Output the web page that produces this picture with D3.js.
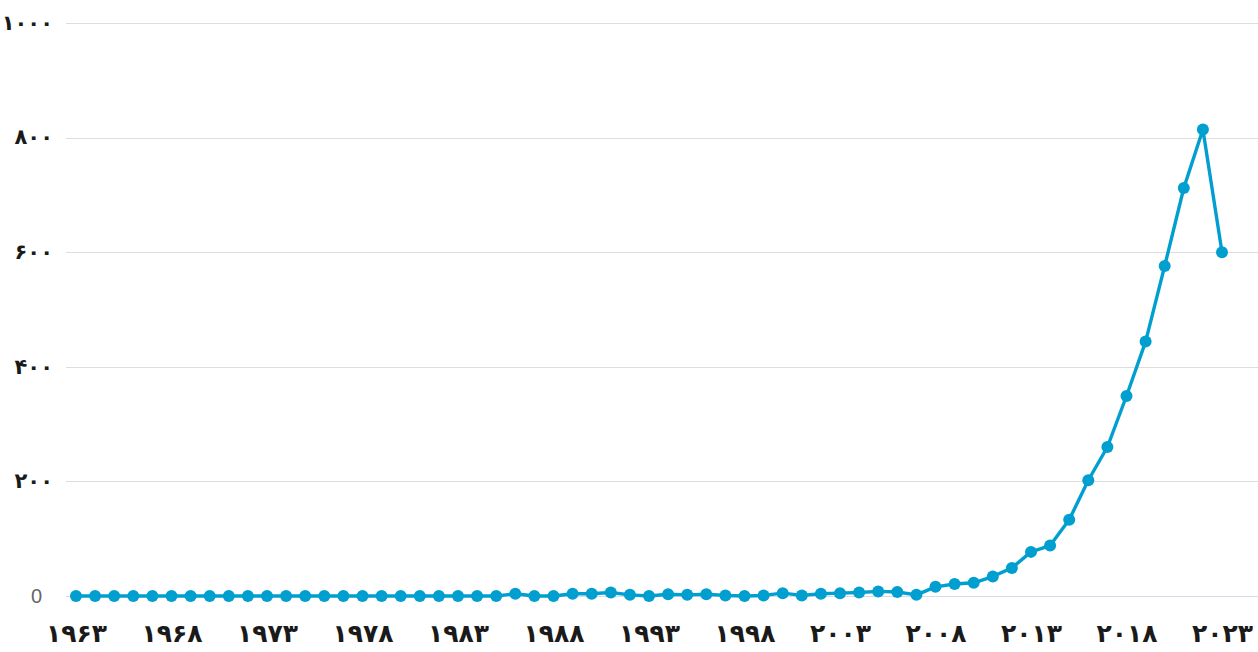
<!DOCTYPE html>
<html>
<head>
<meta charset="utf-8">
<script src="https://cdn.jsdelivr.net/npm/d3@7"></script>
<style>
  html, body { margin: 0; padding: 0; background: #fff; }
  svg { display: block; }
</style>
</head>
<body>
<div id="chart"></div>
<script>
const years = [
  1963, 1964, 1965, 1966, 1967, 1968, 1969, 1970, 1971, 1972,
  1973, 1974, 1975, 1976, 1977, 1978, 1979, 1980, 1981, 1982,
  1983, 1984, 1985, 1986, 1987, 1988, 1989, 1990, 1991, 1992,
  1993, 1994, 1995, 1996, 1997, 1998, 1999, 2000, 2001, 2002,
  2003, 2004, 2005, 2006, 2007, 2008, 2009, 2010, 2011, 2012,
  2013, 2014, 2015, 2016, 2017, 2018, 2019, 2020, 2021, 2022,
  2023
];
const values = [
  0, 0, 0, 0, 0, 0, 0, 0, 0, 0,
  0, 0, 0, 0, 0, 0, 0, 0, 0, 0,
  0, 0, 0, 4, 0, 0, 4, 4, 6, 2,
  0, 3, 2, 3, 1, 0, 1, 5, 1, 4,
  5, 6, 8, 7, 2, 16, 21, 23, 34, 49,
  77, 88, 133, 202, 260, 349, 444, 576, 712, 814,
  600
];
const xTicks = [1963, 1968, 1973, 1978, 1983, 1988, 1993, 1998, 2003, 2008, 2013, 2018, 2023];
const xTickLabels = ['۱۹۶۳', '۱۹۶۸', '۱۹۷۳', '۱۹۷۸', '۱۹۸۳', '۱۹۸۸', '۱۹۹۳', '۱۹۹۸', '۲۰۰۳', '۲۰۰۸', '۲۰۱۳', '۲۰۱۸', '۲۰۲۳'];
const yTicks = [0, 200, 400, 600, 800, 1000];
const yTickLabels = ['0', '۲۰۰', '۴۰۰', '۶۰۰', '۸۰۰', '۱۰۰۰'];

const width = 1258;
const height = 652;
const lineColor = '#009fd0';

const data = years.map((y, i) => ({ year: y, value: values[i] }));

const svg = d3.select('#chart')
  .append('svg')
  .attr('width', width)
  .attr('height', height);

const xScale = d3.scaleLinear().domain([1963, 2023]).range([76, 1222]);
const yScale = d3.scaleLinear().domain([0, 1000]).range([596, 23]);

// gridlines
const grid = svg.append('g').attr('class', 'gridlines');
grid.selectAll('line')
  .data(yTicks)
  .join('line')
  .attr('x1', 66)
  .attr('x2', width)
  .attr('y1', d => Math.round(yScale(d)) + 0.5)
  .attr('y2', d => Math.round(yScale(d)) + 0.5)
  .attr('stroke', d => d === 0 ? '#d3dae8' : '#dedede')
  .attr('stroke-width', 1.2);

// y labels
const yAxis = d3.axisLeft(yScale)
  .tickValues(yTicks)
  .tickSize(0)
  .tickPadding(0)
  .tickFormat((d, i) => yTickLabels[i]);

const yG = svg.append('g')
  .attr('transform', 'translate(53, 0)')
  .call(yAxis);
yG.select('.domain').remove();
yG.selectAll('text')
  .attr('font-family', 'DejaVu Sans, sans-serif')
  .attr('font-weight', 'bold')
  .attr('font-size', 21)
  .attr('fill', '#1a1a1a')
  .attr('dy', '0.3em');
yG.selectAll('text')
  .filter(d => d === 0)
  .attr('font-weight', 'normal')
  .attr('font-family', 'Liberation Sans, Arial, sans-serif')
  .attr('font-size', 20)
  .attr('fill', '#666')
  .attr('x', -11);

// x labels
const xAxis = d3.axisBottom(xScale)
  .tickValues(xTicks)
  .tickSize(0)
  .tickPadding(0)
  .tickFormat((d, i) => xTickLabels[i]);

const xG = svg.append('g')
  .attr('transform', 'translate(0, 621)')
  .call(xAxis);
xG.select('.domain').remove();
xG.selectAll('text')
  .attr('font-family', 'DejaVu Sans, sans-serif')
  .attr('font-weight', 'bold')
  .attr('font-size', 25)
  .attr('fill', '#1a1a1a')
  .attr('dy', '0.85em');

// line
const line = d3.line()
  .x(d => xScale(d.year))
  .y(d => yScale(d.value));

svg.append('path')
  .datum(data)
  .attr('d', line)
  .attr('fill', 'none')
  .attr('stroke', lineColor)
  .attr('stroke-width', 3.4)
  .attr('stroke-linejoin', 'round');

svg.append('g')
  .attr('class', 'dots')
  .selectAll('circle')
  .data(data)
  .join('circle')
  .attr('cx', d => xScale(d.year))
  .attr('cy', d => yScale(d.value))
  .attr('r', 6)
  .attr('fill', lineColor);
</script>
</body>
</html>
